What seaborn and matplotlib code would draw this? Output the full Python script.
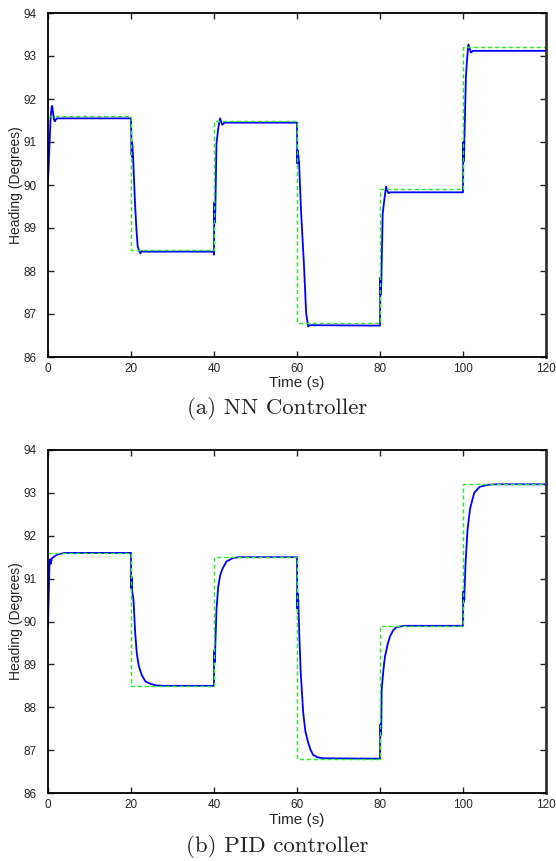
import matplotlib
matplotlib.use("Agg")
import matplotlib.pyplot as plt
import seaborn as sns
import pandas as pd

# ---- data ----
ref_time = [0, 20, 40, 60, 80, 100, 120]
ref_heading = [91.6, 88.5, 91.5, 86.8, 89.9, 93.2, 93.2]

nn_time = [0, 0.15, 0.35, 0.6, 0.85, 1.0, 1.2, 1.45, 1.65, 1.9, 2.3, 3.0,
           20.0, 20.05, 20.15, 20.2, 20.25, 20.3, 20.5, 21.0, 21.3, 21.6, 22.2, 22.6, 23.2,
           39.95, 40.0, 40.05, 40.1, 40.15, 40.2, 40.25, 40.35, 40.6, 41.0, 41.45, 42.0, 42.5,
           60.0, 60.05, 60.1, 60.15, 60.2, 60.25, 60.5, 61.0, 61.7, 62.2, 62.7, 63.1,
           80.0, 80.05, 80.1, 80.15, 80.2, 80.25, 80.35, 80.65, 81.0, 81.45, 82.0, 82.5,
           100.0, 100.05, 100.1, 100.15, 100.2, 100.25, 100.35, 100.7, 101.0, 101.3, 101.9, 102.4,
           120.0]
nn_heading = [90.1, 90.4, 90.9, 91.5, 91.8, 91.84, 91.7, 91.52, 91.48, 91.53, 91.55, 91.55,
              91.55, 91.3, 90.7, 91.0, 90.65, 90.95, 90.66, 89.5, 89.0, 88.57, 88.41, 88.46, 88.45,
              88.45, 88.38, 89.1, 89.6, 89.12, 89.55, 89.15, 89.6, 90.97, 91.3, 91.55, 91.4, 91.45,
              91.45, 90.85, 90.5, 90.8, 90.55, 90.75, 90.51, 89.34, 88.1, 87.02, 86.71, 86.74,
              86.73, 87.4, 87.85, 87.45, 87.8, 87.5, 87.9, 89.34, 89.62, 89.96, 89.81, 89.83,
              89.83, 90.5, 91.0, 90.55, 90.95, 90.6, 91.1, 92.52, 92.95, 93.27, 93.08, 93.12,
              93.12]

pid_time = [0, 0.15, 0.35, 0.5, 0.7, 0.9, 1.3, 2.0, 3.0, 4.0,
            20.0, 20.05, 20.1, 20.15, 20.2, 20.3, 20.6, 21.0, 21.4, 21.9, 22.6, 23.5, 24.6, 26.0, 28.0,
            40.0, 40.05, 40.1, 40.15, 40.2, 40.3, 40.6, 41.0, 41.5, 42.0, 43.0, 44.6, 46.0,
            60.0, 60.05, 60.1, 60.15, 60.2, 60.3, 60.6, 60.9, 61.5, 62.0, 62.7, 63.3, 63.9, 65.0, 66.3,
            80.0, 80.05, 80.1, 80.15, 80.2, 80.3, 80.4, 80.8, 81.2, 81.8, 82.4, 83.2, 84.0, 86.0,
            100.0, 100.05, 100.1, 100.15, 100.2, 100.3, 100.6, 101.1, 101.7, 102.7, 104.0, 106.0, 108.0,
            120.0]
pid_heading = [89.9, 90.5, 91.3, 91.45, 91.35, 91.47, 91.5, 91.55, 91.58, 91.6,
               91.6, 90.8, 91.05, 90.75, 91.0, 90.7, 90.5, 89.75, 89.25, 88.95, 88.75, 88.6, 88.55, 88.51, 88.5,
               88.5, 89.3, 89.05, 89.35, 89.05, 89.4, 90.27, 90.8, 91.08, 91.22, 91.4, 91.48, 91.5,
               91.5, 90.6, 90.3, 90.65, 90.2, 90.5, 89.57, 88.8, 87.87, 87.45, 87.17, 87.0, 86.89, 86.83, 86.81,
               86.8, 87.3, 87.6, 87.35, 87.55, 87.5, 88.4, 88.85, 89.18, 89.45, 89.65, 89.8, 89.87, 89.9,
               89.9, 90.5, 90.7, 90.45, 90.65, 90.5, 91.34, 92.15, 92.63, 93.0, 93.14, 93.19, 93.2,
               93.2]

x_ticks = [0, 20, 40, 60, 80, 100, 120]
y_ticks = [86, 87, 88, 89, 90, 91, 92, 93, 94]
captions = ["(a) NN Controller", "(b) PID controller"]
xlabel = "Time (s)"
ylabel = "Heading (Degrees)"

# ---- plotting ----
sns.set_style("ticks")
plt.rcParams['font.family'] = ['Liberation Sans', 'DejaVu Sans']

fig = plt.figure(figsize=(5.56, 8.61), dpi=100)
W, H = 556, 861
panels = [
    (nn_time, nn_heading, 13, 357, 383, 409),
    (pid_time, pid_heading, 450, 793, 820, 847),
]
ref_df = pd.DataFrame({"t": ref_time, "h": ref_heading})
for i, (tt, hh, top, bot, xl_y, cap_y) in enumerate(panels):
    ax = fig.add_axes([48 / W, 1 - bot / H, (546 - 48) / W, (bot - top) / H])
    df = pd.DataFrame({"t": tt, "h": hh})
    sns.lineplot(data=df, x="t", y="h", ax=ax, color="#0000ff", linewidth=1.3,
                 estimator=None, sort=False)
    sns.lineplot(data=ref_df, x="t", y="h", ax=ax, color="#22ee22", linewidth=1.0,
                 linestyle=(0, (3, 2)), drawstyle="steps-post", estimator=None, sort=False)
    ax.set_xlim(0, 120)
    ax.set_ylim(86, 94)
    ax.set_xticks(x_ticks)
    ax.set_yticks(y_ticks)
    ax.tick_params(direction="in", length=4, width=1, top=True, right=True,
                   labelsize=8.5, pad=4)
    ax.tick_params(axis="y", pad=8)
    for s in ax.spines.values():
        s.set_linewidth(1.3)
        s.set_color("black")
    ax.spines["right"].set_linewidth(2.0)
    ax.spines["right"].set_color("#333333")
    ax.set_xlabel("")
    ax.set_ylabel(ylabel, fontsize=10)
    ax.yaxis.set_label_coords(-25 / 498, 0.5)
    fig.text(297 / W, 1 - xl_y / H, xlabel, ha="center", va="center", fontsize=11)
    fig.text(277 / W, 1 - cap_y / H, captions[i], ha="center", va="center",
             fontsize=16.5, family=["cmr10", "DejaVu Serif"])

fig.savefig("out.png", dpi=100)
